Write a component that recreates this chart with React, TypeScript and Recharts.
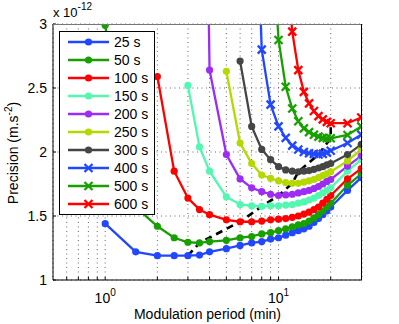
import React from "react";
import { LineChart, Line, XAxis, YAxis, CartesianGrid, Legend } from "recharts";

const FONT = '"Liberation Sans", Arial, Helvetica, sans-serif';

// modulation periods (min)
const periods = [1, 1.5, 2, 2.5, 3, 3.5, 4, 5, 6, 7, 8, 9, 10, 11, 12, 13, 14, 15, 16, 17, 18, 19, 20, 25, 30];

// precision (x 1e-12 m.s^-2) for each integration time, null = not computed
const p25 = [1.44, 1.22, 1.19, 1.19, 1.19, 1.195, 1.22, 1.245, 1.27, 1.29, 1.3, 1.32, 1.33, 1.35, 1.37, 1.385, 1.4, 1.42, 1.45, 1.48, 1.51, 1.54, 1.57, 1.7, 1.8];
const p50 = [2.99, 1.57, 1.42, 1.33, 1.295, 1.29, 1.3, 1.31, 1.33, 1.34, 1.36, 1.37, 1.385, 1.4, 1.415, 1.43, 1.44, 1.46, 1.485, 1.51, 1.54, 1.57, 1.6, 1.74, 1.83];
const p100 = [null, null, 2.59, 1.85, 1.64, 1.55, 1.51, 1.47, 1.455, 1.455, 1.46, 1.47, 1.475, 1.48, 1.49, 1.5, 1.515, 1.53, 1.55, 1.57, 1.6, 1.63, 1.66, 1.79, 1.87];
const p150 = [null, null, null, null, 2.52, 2.04, 1.85, 1.65, 1.59, 1.58, 1.575, 1.58, 1.58, 1.585, 1.59, 1.6, 1.61, 1.625, 1.64, 1.66, 1.68, 1.7, 1.72, 1.85, 1.94];
const p200 = [null, null, null, null, null, 8, 2.64, 1.98, 1.79, 1.72, 1.69, 1.67, 1.66, 1.665, 1.67, 1.68, 1.69, 1.7, 1.715, 1.73, 1.75, 1.77, 1.785, 1.89, 1.97];
const p250 = [null, null, null, null, null, null, null, 2.63, 2.07, 1.91, 1.82, 1.795, 1.775, 1.76, 1.755, 1.755, 1.765, 1.775, 1.785, 1.8, 1.815, 1.83, 1.845, 1.93, 2.02];
const p300 = [null, null, null, null, null, null, null, null, 2.71, 2.2, 2.02, 1.94, 1.885, 1.86, 1.85, 1.845, 1.85, 1.855, 1.865, 1.875, 1.885, 1.9, 1.91, 1.98, 2.06];
const p400 = [null, null, null, null, null, null, null, null, null, 5, 2.8, 2.37, 2.2, 2.11, 2.05, 2.02, 2.0, 1.99, 1.985, 1.98, 1.985, 1.995, 2.01, 2.07, 2.135];
const p500 = [null, null, null, null, null, null, null, null, null, null, null, 3.9, 2.875, 2.51, 2.34, 2.24, 2.185, 2.155, 2.135, 2.12, 2.11, 2.107, 2.107, 2.133, 2.2];
const p600 = [null, null, null, null, null, null, null, null, null, null, null, null, null, 3.5, 2.94, 2.64, 2.47, 2.38, 2.32, 2.28, 2.255, 2.235, 2.225, 2.225, 2.27];

// location of the minimum of each curve
const minPeriods = [3, 3.5, 6, 8, 10, 12, 13, 17, 20, 20];
const minValues = [1.19, 1.29, 1.455, 1.575, 1.66, 1.755, 1.845, 1.98, 2.107, 2.225];

const xTicks = [0.6, 0.7, 0.8, 0.9, 1, 2, 3, 4, 5, 6, 7, 8, 9, 10, 20];
const yTicks = [1, 1.5, 2, 2.5, 3];
const xDomain = [0.5, 30.3];
const yDomain = [1, 3];

// chart frame
const W = 399;
const H = 324;
const MARGIN = { top: 24, right: 37, bottom: 0, left: 8 };
const Y_AXIS_W = 45;
const X_AXIS_H = 44;
const plotLeft = MARGIN.left + Y_AXIS_W;
const plotRight = W - MARGIN.right;
const plotTop = MARGIN.top;
const plotBottom = H - MARGIN.bottom - X_AXIS_H;

const BLUE = "#2147ff";
const GREEN = "#17a000";
const RED = "#ff0000";

const series = [
  { key: "t25", label: "25 s", values: p25, color: BLUE, cross: false },
  { key: "t50", label: "50 s", values: p50, color: GREEN, cross: false },
  { key: "t100", label: "100 s", values: p100, color: RED, cross: false },
  { key: "t150", label: "150 s", values: p150, color: "#52f7b0", cross: false },
  { key: "t200", label: "200 s", values: p200, color: "#9d2cf5", cross: false },
  { key: "t250", label: "250 s", values: p250, color: "#b4d800", cross: false },
  { key: "t300", label: "300 s", values: p300, color: "#454545", cross: false },
  { key: "t400", label: "400 s", values: p400, color: BLUE, cross: true },
  { key: "t500", label: "500 s", values: p500, color: GREEN, cross: true },
  { key: "t600", label: "600 s", values: p600, color: RED, cross: true },
];

const rows = periods.map((p, i) => {
  const row: Record<string, number | null> = { p };
  series.forEach((s) => {
    row[s.key] = s.values[i];
  });
  return row;
});

const minima = minPeriods.map((p, i) => ({ p, v: minValues[i] }));

const crossPath = (cx: number, cy: number, d: number) =>
  `M${cx - d},${cy - d}L${cx + d},${cy + d}M${cx - d},${cy + d}L${cx + d},${cy - d}`;

const crossDot = (color: string) => (props: any) => {
  const { cx, cy, index } = props;
  if (cx == null || cy == null || isNaN(cy)) return <g key={index} />;
  return <path key={index} d={crossPath(cx, cy, 4)} stroke={color} strokeWidth={2.3} fill="none" />;
};

const XTick = (props: any) => {
  const { x, y, payload } = props;
  const v = payload.value;
  const e = Math.round(Math.log10(v));
  if (Math.abs(v - Math.pow(10, e)) > 1e-9) return <g />;
  return (
    <text x={x} y={y + 26} textAnchor="middle" fontSize={14} fontFamily={FONT} fill="#000">
      <tspan>10</tspan>
      <tspan dy={-7} fontSize={10}>{e}</tspan>
    </text>
  );
};

const LegendBox = () => (
  <div
    style={{
      background: "#fff",
      border: "1px solid #000",
      width: 94,
      padding: "1px 0",
      fontFamily: FONT,
      fontSize: 14,
      color: "#000",
    }}
  >
    {series.map((s) => (
      <div key={s.key} style={{ display: "flex", alignItems: "center", height: 18 }}>
        <svg width={54} height={18} style={{ display: "block" }}>
          <line x1={8} x2={49} y1={9} y2={9} stroke={s.color} strokeWidth={2.3} />
          {s.cross ? (
            <path d={crossPath(28.5, 9, 4)} stroke={s.color} strokeWidth={2.3} fill="none" />
          ) : (
            <circle cx={28.5} cy={9} r={3.6} fill={s.color} />
          )}
        </svg>
        <span>{s.label}</span>
      </div>
    ))}
  </div>
);

export default function App() {
  return (
    <div style={{ position: "absolute", left: 0, top: 0, width: W, height: H, background: "#fff" }}>
      <LineChart width={W} height={H} data={rows} margin={MARGIN}>
        <CartesianGrid stroke="#666" strokeDasharray="1 3.5" />
        <XAxis
          dataKey="p"
          type="number"
          scale="log"
          domain={xDomain}
          allowDataOverflow
          ticks={xTicks}
          interval={0}
          height={X_AXIS_H}
          tickSize={-3}
          tickMargin={0}
          tick={<XTick />}
          axisLine={{ stroke: "#000" }}
          tickLine={{ stroke: "#000" }}
        />
        <YAxis
          type="number"
          domain={yDomain}
          allowDataOverflow
          ticks={yTicks}
          interval={0}
          width={Y_AXIS_W}
          tickSize={-3}
          tickMargin={9}
          tick={{ fontSize: 14, fontFamily: FONT, fill: "#000" }}
          axisLine={{ stroke: "#000" }}
          tickLine={{ stroke: "#000" }}
        />
        {series.map((s) => (
          <Line
            key={s.key}
            dataKey={s.key}
            stroke={s.color}
            strokeWidth={2.3}
            isAnimationActive={false}
            activeDot={false}
            dot={s.cross ? crossDot(s.color) : { r: 3.6, fill: s.color, stroke: s.color, strokeWidth: 0 }}
          />
        ))}
        <Line
          data={minima}
          dataKey="v"
          stroke="#000"
          strokeWidth={2.6}
          strokeDasharray="7 5"
          dot={false}
          activeDot={false}
          isAnimationActive={false}
        />
        <Legend
          layout="vertical"
          align="center"
          verticalAlign="middle"
          content={() => <LegendBox />}
          wrapperStyle={{ left: 59, top: 31, width: "auto", height: "auto" }}
        />
      </LineChart>
      <svg
        width={W}
        height={H}
        style={{ position: "absolute", left: 0, top: 0, pointerEvents: "none" }}
        fontFamily={FONT}
      >
        {/* top and right edges of the plot box */}
        <line x1={plotLeft} x2={plotRight} y1={plotTop + 0.5} y2={plotTop + 0.5} stroke="#777" strokeWidth={1} />
        <line x1={plotRight - 0.5} x2={plotRight - 0.5} y1={plotTop} y2={plotBottom} stroke="#000" strokeWidth={1} />
        <text x={53} y={17} fontSize={13} fill="#000">
          x 10<tspan dy={-7} fontSize={10}>-12</tspan>
        </text>
        <text x={207.5} y={319} textAnchor="middle" fontSize={14} fill="#000">
          Modulation period (min)
        </text>
        <text transform="translate(18,153) rotate(-90)" textAnchor="middle" fontSize={14} fill="#000">
          Precision (m.s<tspan dy={-6} fontSize={10}>-2</tspan>
          <tspan dy={6}>)</tspan>
        </text>
      </svg>
    </div>
  );
}
